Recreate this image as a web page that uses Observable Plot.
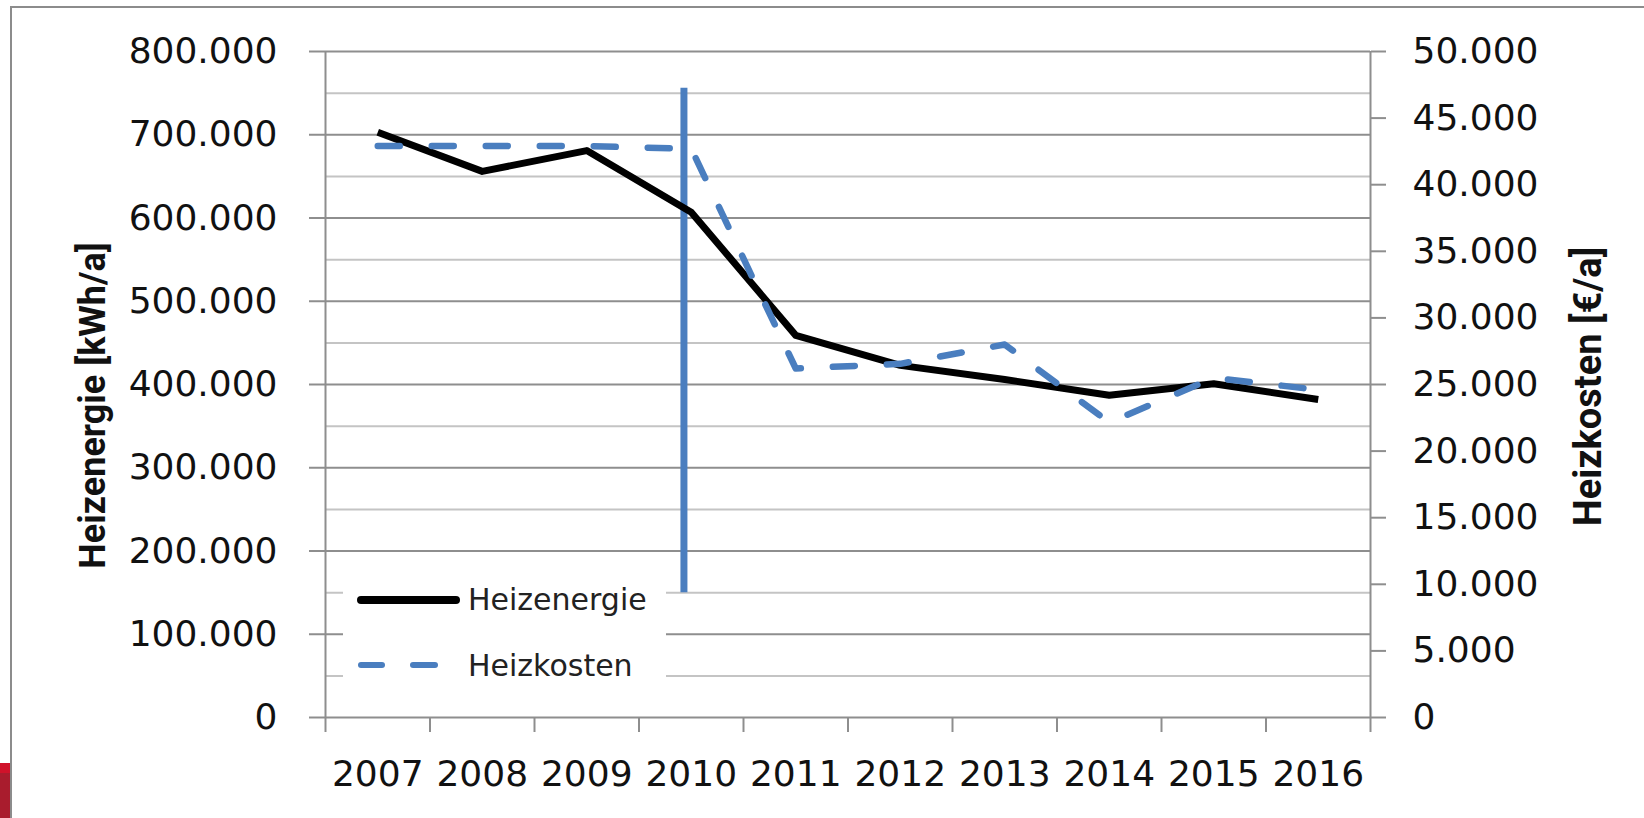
<!DOCTYPE html>
<html>
<head>
<meta charset="utf-8">
<script src="https://cdn.jsdelivr.net/npm/d3@7"></script>
<script src="https://cdn.jsdelivr.net/npm/@observablehq/plot@0.6"></script>
<style>
  html, body { margin: 0; padding: 0; background: #fff; }
  #wrap { position: relative; width: 1644px; height: 818px; overflow: hidden; background: #fff; }
  #frame { position: absolute; left: 10px; top: 6px; width: 1660px; height: 840px;
           border-top: 2px solid #8c8c8c; border-left: 2px solid #8c8c8c; }
  #red { position: absolute; left: 0; top: 763px; width: 10px; height: 55px;
         background: linear-gradient(#d0122a 0 10px, #a91c2d 10px); }
  #chart { position: absolute; left: 0; top: 0; }
  #legend { position: absolute; left: 343px; top: 582px; width: 323px; height: 98px; background: #fff;
            font-family: "DejaVu Sans", sans-serif; font-size: 30px; color: #222; }
  #legend .t { position: absolute; left: 125px; line-height: 30px; white-space: nowrap; }
  #legend .s { position: absolute; }
</style>
</head>
<body>
<div id="wrap">
  <div id="frame"></div>
  <div id="red"></div>
  <div id="chart"></div>
  <div id="legend"></div>
</div>
<script>
// ---- data ----
const years = [2007, 2008, 2009, 2010, 2011, 2012, 2013, 2014, 2015, 2016];
const heizenergie = [703000, 656000, 681000, 607000, 459000, 423000, 406000, 387000, 401000, 382000]; // kWh/a
const heizkosten = [42900, 42900, 42900, 42700, 26200, 26550, 28000, 22150, 25500, 24600];      // €/a
const leftTicks = [0, 100000, 200000, 300000, 400000, 500000, 600000, 700000, 800000];
const minorGrid = [50000, 150000, 250000, 350000, 450000, 550000, 650000, 750000];
const rightTicks = [0, 5000, 10000, 15000, 20000, 25000, 30000, 35000, 40000, 45000, 50000];
const yearBounds = [2006.5, 2007.5, 2008.5, 2009.5, 2010.5, 2011.5, 2012.5, 2013.5, 2014.5, 2015.5, 2016.5];
const markerYear = [2009.93];          // vertical blue marker line
const markerRange = [150000, 756000];  // its extent on the left axis
const seriesNames = ["Heizenergie", "Heizkosten"];
const axisTitles = ["Heizenergie [kWh/a]", "Heizkosten [€/a]"];

// ---- helpers ----
const ratio = leftTicks[leftTicks.length - 1] / rightTicks[rightTicks.length - 1]; // 16
const de = d3.formatLocale({decimal: ",", thousands: ".", grouping: [3], currency: ["", "€"]}).format(",");
const data = years.map((year, i) => ({year, energie: heizenergie[i], kosten: heizkosten[i]}));

const gridMajor = "#8e8e8e";
const gridMinor = "#c4c4c4";
const blue = "#4a7ebf";
const font = "DejaVu Sans";

const chart = Plot.plot({
  width: 1644,
  height: 818,
  marginLeft: 325,
  marginRight: 274,
  marginTop: 51,
  marginBottom: 101,
  style: {fontFamily: font, fontSize: "36px", color: "#111", background: "transparent", overflow: "visible"},
  x: {domain: [yearBounds[0], yearBounds[yearBounds.length - 1]]},
  y: {domain: [leftTicks[0], leftTicks[leftTicks.length - 1]]},
  marks: [
    Plot.ruleY(minorGrid, {stroke: gridMinor, strokeWidth: 2}),
    Plot.ruleY(leftTicks, {stroke: gridMajor, strokeWidth: 2}),
    Plot.ruleX([yearBounds[0], yearBounds[yearBounds.length - 1]], {stroke: gridMajor, strokeWidth: 2}),
    Plot.axisY({ticks: leftTicks, tickSize: 16, tickPadding: 32, tickFormat: de, label: null,
                stroke: gridMajor, strokeWidth: 2, fill: "#111", fontSize: 36, fontFamily: font}),
    Plot.axisY({anchor: "right", ticks: rightTicks.map(v => v * ratio), tickSize: 15, tickPadding: 27,
                tickFormat: d => de(Math.round(d / ratio)), label: null,
                stroke: gridMajor, strokeWidth: 2, fill: "#111", fontSize: 36, fontFamily: font}),
    Plot.axisX({ticks: yearBounds, tickSize: 15, tickFormat: () => "", label: null,
                stroke: gridMajor, strokeWidth: 2}),
    Plot.axisX({ticks: years, tickSize: 0, tickPadding: 43, tickFormat: d => String(d), label: null,
                fill: "#111", fontSize: 36, fontFamily: font}),
    Plot.ruleX(markerYear, {y1: markerRange[0], y2: markerRange[1], stroke: blue, strokeWidth: 7}),
    Plot.line(data, {x: "year", y: "energie", stroke: "#000", strokeWidth: 7,
                     strokeLinejoin: "round", strokeLinecap: "butt"}),
    Plot.line(data, {x: "year", y: d => d.kosten * ratio, stroke: blue, strokeWidth: 6.5,
                     strokeDasharray: "22,32", strokeLinecap: "round", strokeLinejoin: "round"}),
    Plot.text([axisTitles[0]], {frameAnchor: "left", textAnchor: "middle", lineAnchor: "middle",
                dx: -232, dy: 21, rotate: -90,
                fontFamily: "Roboto", fontWeight: "bold", fontSize: 36, fill: "#111"}),
    Plot.text([axisTitles[1]], {frameAnchor: "right", textAnchor: "middle", lineAnchor: "middle",
                dx: 218, dy: 2, rotate: -90,
                fontFamily: "Roboto", fontWeight: "bold", fontSize: 38, fill: "#111"})
  ]
});
document.getElementById("chart").appendChild(chart);

// ---- legend ----
const legend = document.getElementById("legend");
legend.innerHTML = `
  <div class="s" style="left:14px;top:14px;width:103px;height:8px;background:#000;border-radius:4px"></div>
  <div class="t" style="top:3px">${seriesNames[0]}</div>
  <div class="s" style="left:15px;top:80px;width:27px;height:6px;background:${blue};border-radius:3px"></div>
  <div class="s" style="left:67px;top:80px;width:28px;height:6px;background:${blue};border-radius:3px"></div>
  <div class="t" style="top:69px">${seriesNames[1]}</div>
`;
</script>
</body>
</html>
